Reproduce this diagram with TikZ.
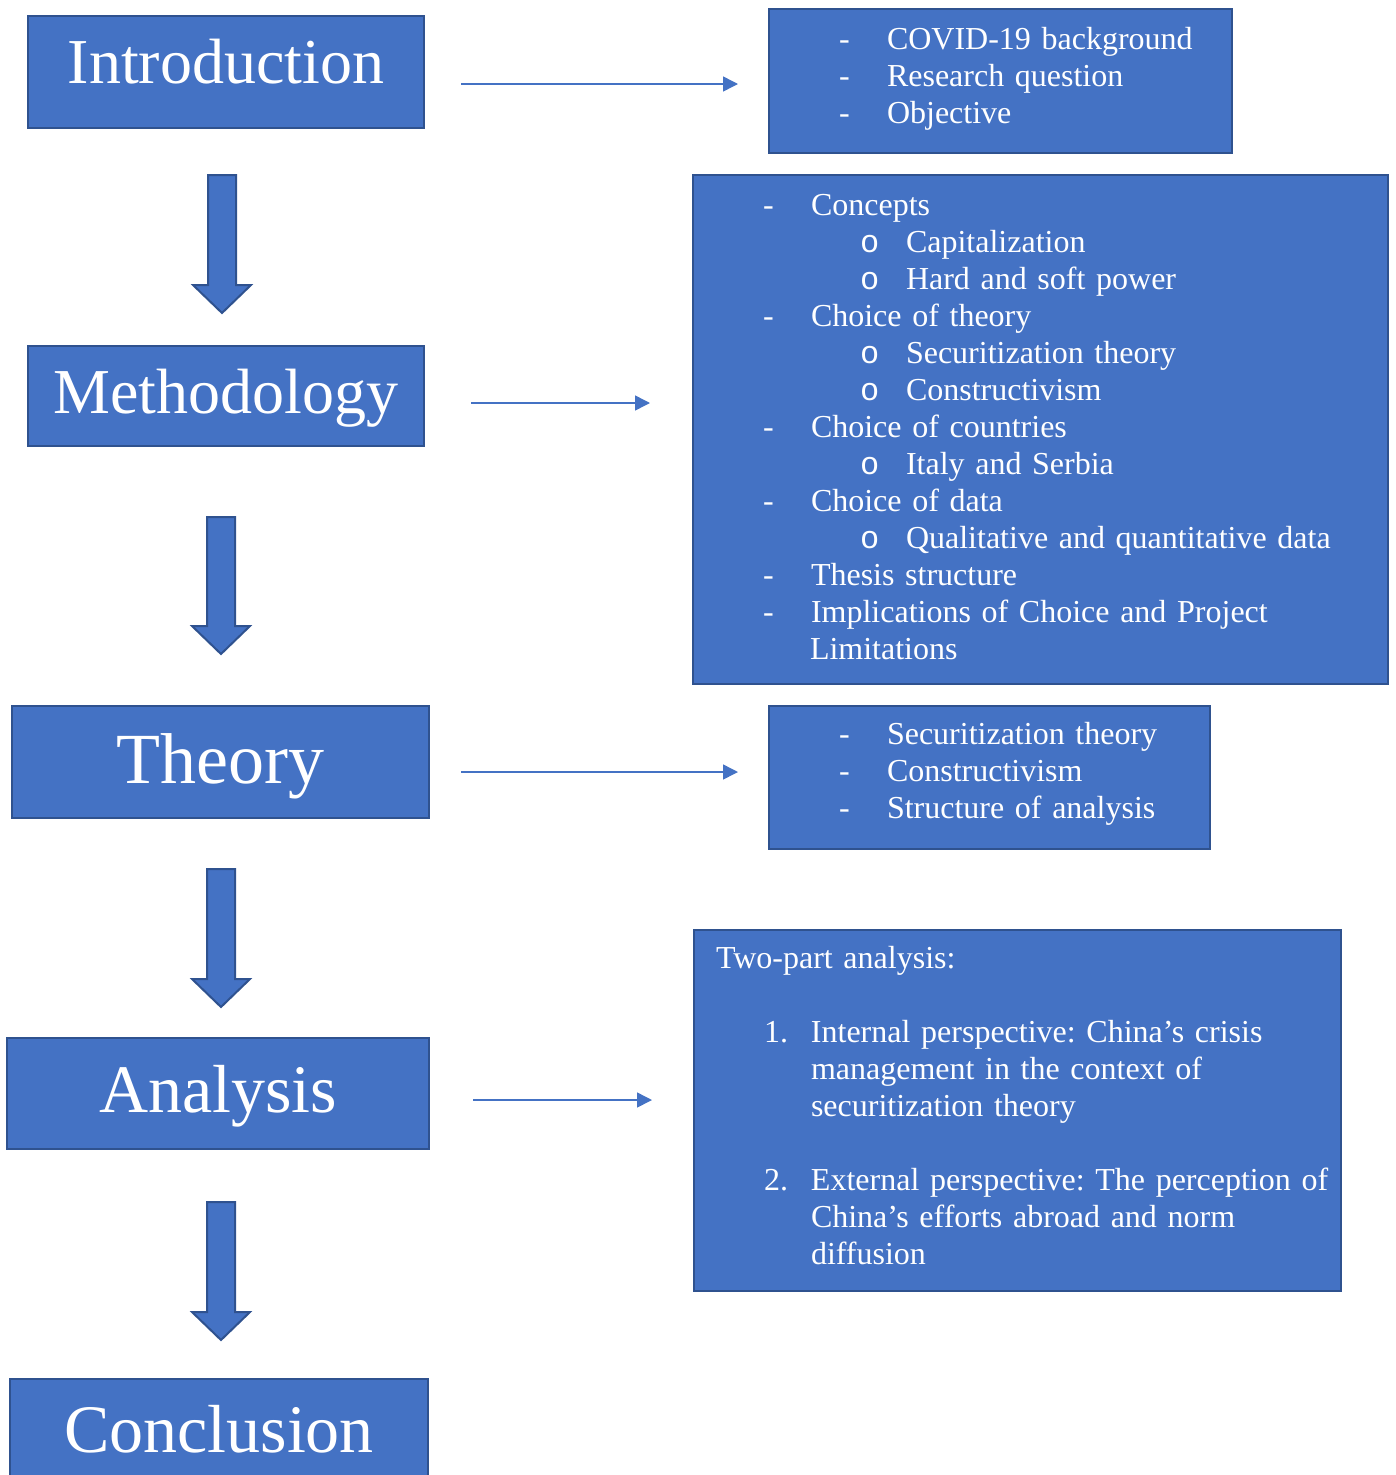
\documentclass[tikz,border=0pt]{standalone}
\usepackage{fontspec}
\setmainfont{Liberation Serif}
\newfontfamily\bulletfont{Liberation Mono}
\usepackage{tikz}
\usetikzlibrary{arrows.meta,calc}
\definecolor{boxblue}{HTML}{4472C4}
\definecolor{boxline}{HTML}{2F528F}
\setlength{\parindent}{0pt}
\frenchspacing

\newcommand{\dashitem}[1]{\hspace*{70pt}\makebox[48pt][l]{-}#1}
\newcommand{\circitem}[1]{\hspace*{167pt}\makebox[46pt][l]{\bulletfont o}#1}
\newcommand{\numitem}[2]{\hspace*{70pt}\makebox[47pt][l]{#1}#2}
\newcommand{\indentline}[1]{\hspace*{117pt}#1}
\newcommand{\blockdown}[2]{%
  \filldraw[blockarrow] let \p1=(#1), \p2=(#2) in
    (\x1-14pt,\y1) -- (\x1+14pt,\y1) -- (\x1+14pt,\y2+28pt) -- (\x1+29pt,\y2+28pt)
    -- (\x2,\y2) -- (\x1-29pt,\y2+28pt) -- (\x1-14pt,\y2+28pt) -- cycle;}

\begin{document}
\begin{tikzpicture}[x=1pt,y=-1pt,
  stage/.style={draw=boxline, line width=2.5pt, fill=boxblue, text=white,
    minimum width=396pt, minimum height=112pt, inner sep=0pt,
    font=\fontsize{64}{70}\selectfont, text height=42pt, text depth=8pt},
  listbox/.style={draw=boxline, line width=2pt, fill=boxblue, text=white,
    inner sep=0pt, align=left, font=\fontsize{32}{37}\selectfont},
  link/.style={draw=boxblue, line width=1.5pt, -{Triangle[length=15pt,width=15pt]}},
  blockarrow/.style={fill=boxblue, draw=boxline, line width=2pt}]
\useasboundingbox (0,0) rectangle (1395,1475);

\node[stage, text depth=19pt] (intro) at (226,72) {Introduction};
\node[stage, minimum height=100pt] (method) at (226,396) {Methodology};
\node[stage, minimum width=417pt, font=\fontsize{72}{80}\selectfont,
  text height=48pt, text depth=6pt] (theory) at (220.5,762) {Theory};
\node[stage, minimum width=422pt, minimum height=111pt, font=\fontsize{68}{75}\selectfont,
  text height=45pt, text depth=7pt] (analysis) at (218,1093.5) {Analysis};
\node[stage, minimum width=418pt, font=\fontsize{68}{75}\selectfont,
  text height=45pt, text depth=10pt] (conclusion) at (219,1435) {Conclusion};

\node[listbox, text width=463pt, minimum height=144pt, text depth=86pt] (introlist) at (1000.5,81) {%
\dashitem{COVID-19 background}\\
\dashitem{Research question}\\
\dashitem{Objective}};
\node[listbox, text width=695pt, minimum height=509pt, text depth=449pt] (methodlist) at (1040.5,429.5) {%
\dashitem{Concepts}\\
\circitem{Capitalization}\\
\circitem{Hard and soft power}\\
\dashitem{Choice of theory}\\
\circitem{Securitization theory}\\
\circitem{Constructivism}\\
\dashitem{Choice of countries}\\
\circitem{Italy and Serbia}\\
\dashitem{Choice of data}\\
\circitem{Qualitative and quantitative data}\\
\dashitem{Thesis structure}\\
\dashitem{Implications of Choice and Project}\\
\indentline{Limitations}};
\node[listbox, text width=441pt, minimum height=143pt, text depth=88pt] (theorylist) at (989.5,777.5) {%
\dashitem{Securitization theory}\\
\dashitem{Constructivism}\\
\dashitem{Structure of analysis}};
\node[listbox, text width=647pt, minimum height=361pt, text depth=307pt] (analysislist) at (1017.5,1110.5) {%
\hspace*{22pt}Two-part analysis:\\[37pt]
\numitem{1.}{Internal perspective: China’s crisis}\\
\indentline{management in the context of}\\
\indentline{securitization theory}\\[37pt]
\numitem{2.}{External perspective: The perception of}\\
\indentline{China’s efforts abroad and norm}\\
\indentline{diffusion}};

\coordinate (introout) at (461,84);
\coordinate (introin) at (738,84);
\coordinate (methodout) at (471,403);
\coordinate (methodin) at (650,403);
\coordinate (theoryout) at (461,772);
\coordinate (theoryin) at (738,772);
\coordinate (analysisout) at (473,1100);
\coordinate (analysisin) at (652,1100);
\draw[link] (introout) -- (introin);
\draw[link] (methodout) -- (methodin);
\draw[link] (theoryout) -- (theoryin);
\draw[link] (analysisout) -- (analysisin);

\coordinate (down1a) at (222,175);
\coordinate (down1b) at (222,313);
\coordinate (down2a) at (221,517);
\coordinate (down2b) at (221,654);
\coordinate (down3a) at (221,869);
\coordinate (down3b) at (221,1007);
\coordinate (down4a) at (221,1202);
\coordinate (down4b) at (221,1340);
\blockdown{down1a}{down1b}
\blockdown{down2a}{down2b}
\blockdown{down3a}{down3b}
\blockdown{down4a}{down4b}
\end{tikzpicture}
\end{document}
